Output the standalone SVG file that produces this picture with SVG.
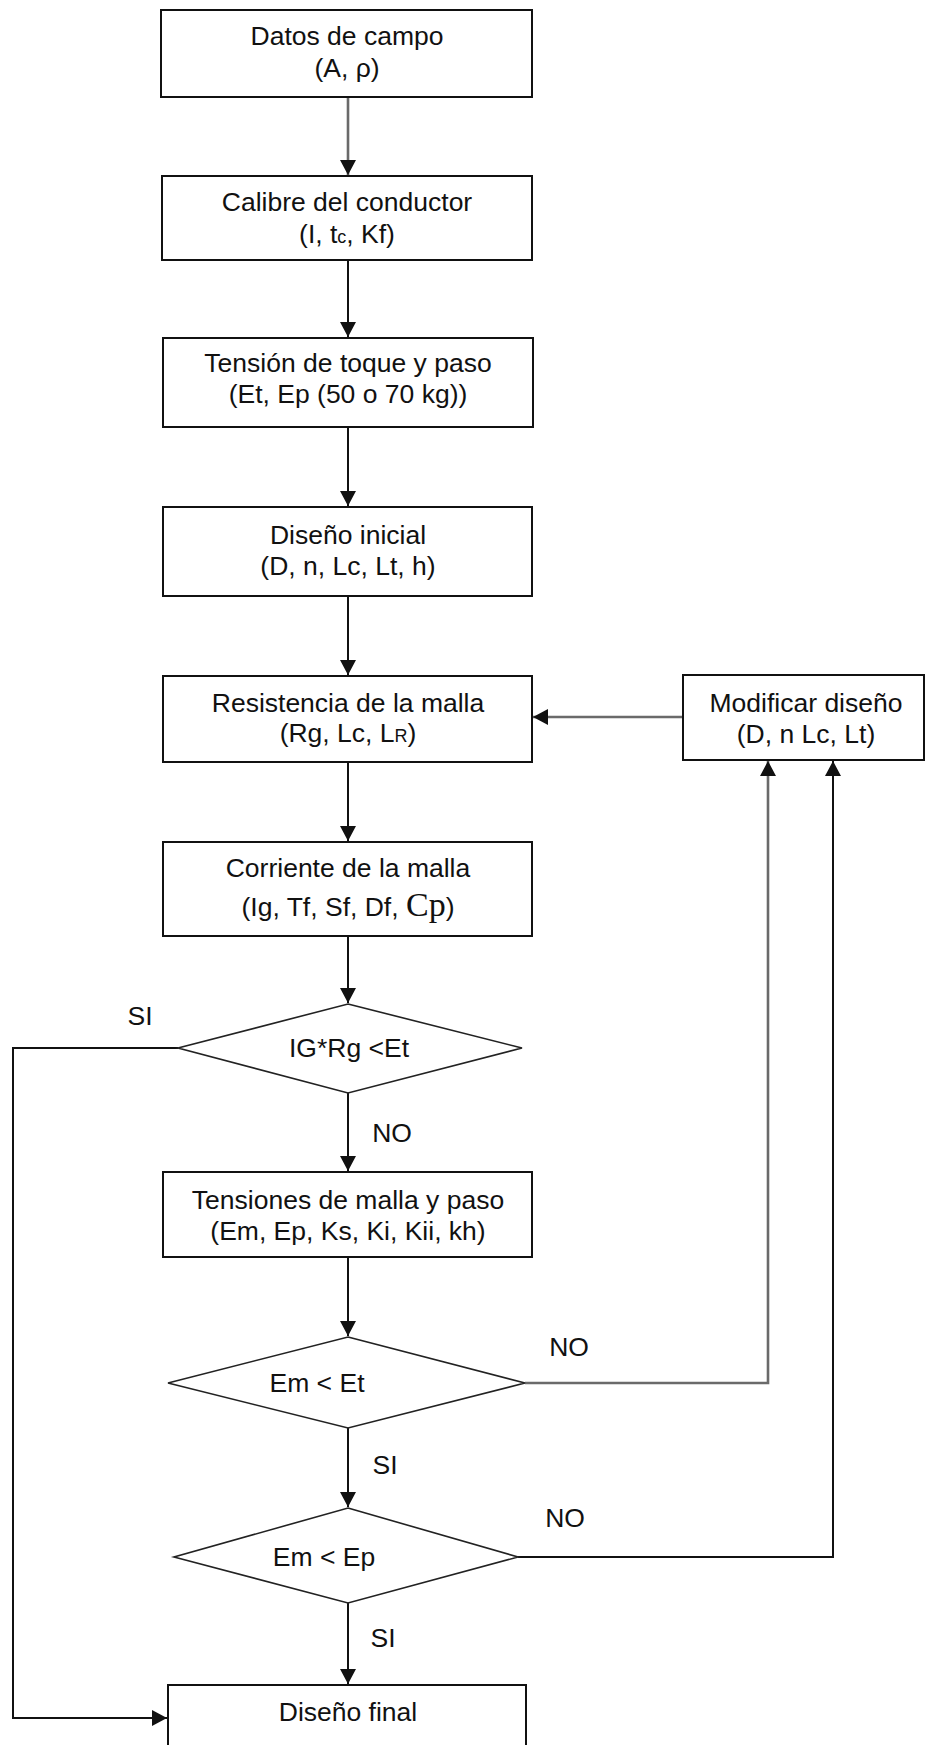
<svg xmlns="http://www.w3.org/2000/svg" width="925" height="1745" viewBox="0 0 925 1745">
<style>
.box{fill:#fff;stroke:#111;stroke-width:2}
.dia{fill:#fff;stroke:#222;stroke-width:1.6}
.t{font-family:"Liberation Sans",Arial,sans-serif;font-size:26.5px;fill:#111;text-anchor:middle}
.l{font-family:"Liberation Sans",Arial,sans-serif;font-size:26.5px;fill:#111;text-anchor:middle}
.c{fill:none;stroke:#111;stroke-width:2}
.g{fill:none;stroke:#6a6a6a;stroke-width:2.6}
</style>
<defs>
<marker id="ah" markerUnits="userSpaceOnUse" markerWidth="16" markerHeight="16" refX="15" refY="8" orient="auto">
<path d="M0,0 L15,8 L0,16 z" fill="#111"/>
</marker>
</defs>
<rect width="925" height="1745" fill="#fff"/>
<g id="connectors">
<path class="g" d="M348,97 V175" marker-end="url(#ah)"/>
<path class="c" d="M348,260 V337" marker-end="url(#ah)"/>
<path class="c" d="M348,427 V506" marker-end="url(#ah)"/>
<path class="c" d="M348,596 V675" marker-end="url(#ah)"/>
<path class="c" d="M348,762 V841" marker-end="url(#ah)"/>
<path class="c" d="M348,936 V1003" marker-end="url(#ah)"/>
<path class="c" d="M348,1093 V1171" marker-end="url(#ah)"/>
<path class="c" d="M178,1048 H13 V1718 H167" marker-end="url(#ah)"/>
<path class="c" d="M348,1257 V1336" marker-end="url(#ah)"/>
<path class="c" d="M348,1428 V1507" marker-end="url(#ah)"/>
<path class="c" d="M348,1603 V1684" marker-end="url(#ah)"/>
<path class="g" d="M525,1383 H768 V761" marker-end="url(#ah)"/>
<path class="c" d="M518,1557 H833 V761" marker-end="url(#ah)"/>
<path class="g" d="M683,717 H533" marker-end="url(#ah)"/>
<text class="l" x="140" y="1025">SI</text>
<text class="l" x="392" y="1142">NO</text>
<text class="l" x="569" y="1356">NO</text>
<text class="l" x="385" y="1474">SI</text>
<text class="l" x="565" y="1527">NO</text>
<text class="l" x="383" y="1647">SI</text>
</g>
<g id="datos">
<rect class="box" x="161" y="10" width="371" height="87"/>
<text class="t" x="347" y="45">Datos de campo</text>
<text class="t" x="347" y="77">(A, ρ)</text>
</g>
<g id="calibre">
<rect class="box" x="162" y="176" width="370" height="84"/>
<text class="t" x="347" y="211">Calibre del conductor</text>
<text class="t" x="347" y="243">(I, t<tspan font-size="18">c</tspan>, Kf)</text>
</g>
<g id="tension">
<rect class="box" x="163" y="338" width="370" height="89"/>
<text class="t" x="348" y="372">Tensión de toque y paso</text>
<text class="t" x="348" y="403">(Et, Ep (50 o 70 kg))</text>
</g>
<g id="inicial">
<rect class="box" x="163" y="507" width="369" height="89"/>
<text class="t" x="348" y="544">Diseño inicial</text>
<text class="t" x="348" y="575">(D, n, Lc, Lt, h)</text>
</g>
<g id="resistencia">
<rect class="box" x="163" y="676" width="369" height="86"/>
<text class="t" x="348" y="712">Resistencia de la malla</text>
<text class="t" x="348" y="742">(Rg, Lc, L<tspan font-size="18">R</tspan>)</text>
</g>
<g id="modificar">
<rect class="box" x="683" y="675" width="241" height="85"/>
<text class="t" x="806" y="712">Modificar diseño</text>
<text class="t" x="806" y="743">(D, n Lc, Lt)</text>
</g>
<g id="corriente">
<rect class="box" x="163" y="842" width="369" height="94"/>
<text class="t" x="348" y="877">Corriente de la malla</text>
<text class="t" x="348" y="916">(Ig, Tf, Sf, Df, <tspan font-family="'Liberation Serif',serif" font-size="34">Cp</tspan>)</text>
</g>
<g id="decision1">
<polygon class="dia" points="348,1004 522,1048 348,1093 178,1048"/>
<text class="t" x="349" y="1057">IG*Rg &lt;Et</text>
</g>
<g id="tensiones">
<rect class="box" x="163" y="1172" width="369" height="85"/>
<text class="t" x="348" y="1209">Tensiones de malla y paso</text>
<text class="t" x="348" y="1240">(Em, Ep, Ks, Ki, Kii, kh)</text>
</g>
<g id="decision2">
<polygon class="dia" points="348,1337 525,1383 348,1428 168,1383"/>
<text class="t" x="317" y="1392">Em &lt; Et</text>
</g>
<g id="decision3">
<polygon class="dia" points="348,1508 518,1557 348,1603 174,1557"/>
<text class="t" x="324" y="1566">Em &lt; Ep</text>
</g>
<g id="final">
<rect class="box" x="168" y="1685" width="358" height="80"/>
<text class="t" x="348" y="1721">Diseño final</text>
</g>
</svg>
